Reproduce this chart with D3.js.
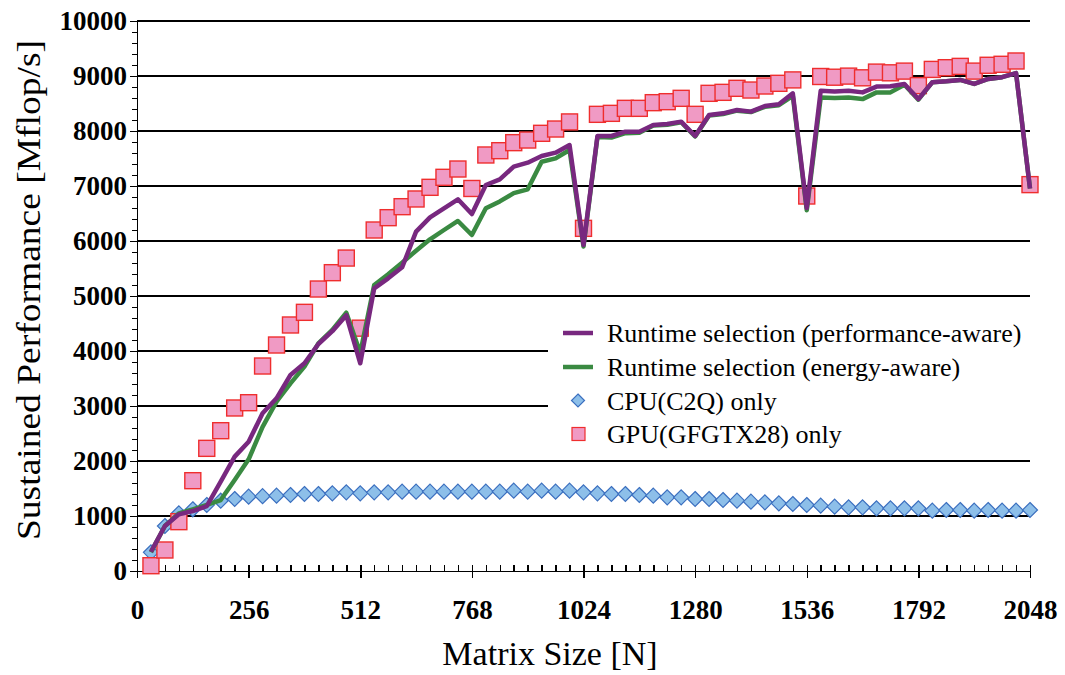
<!DOCTYPE html>
<html lang="en">
<head>
<meta charset="UTF-8">
<title>Sustained Performance vs Matrix Size</title>
<script src="https://cdn.jsdelivr.net/npm/d3@7"></script>
<style>
  body { margin: 0; background: #fff; }
  .axis path, .axis line { stroke: #000; stroke-width: 1.5; shape-rendering: crispEdges; }
  .grid line { stroke: #000; stroke-width: 1.3; shape-rendering: crispEdges; }
</style>
</head>
<body>
<script>
// matrix sizes N
let sizes = [32, 64, 96, 128, 160, 192, 224, 256,
  288, 320, 352, 384, 416, 448, 480, 512,
  544, 576, 608, 640, 672, 704, 736, 768,
  800, 832, 864, 896, 928, 960, 992, 1024,
  1056, 1088, 1120, 1152, 1184, 1216, 1248, 1280,
  1312, 1344, 1376, 1408, 1440, 1472, 1504, 1536,
  1568, 1600, 1632, 1664, 1696, 1728, 1760, 1792,
  1824, 1856, 1888, 1920, 1952, 1984, 2016, 2048];

// Mflop/s
let perfAware = [350, 818, 1030, 1090, 1180, 1624, 2079, 2350,
  2867, 3140, 3564, 3776, 4127, 4360, 4650, 3776,
  5139, 5321, 5521, 6170, 6430, 6594, 6758, 6491,
  7018, 7121, 7352, 7424, 7545, 7606, 7745, 5927,
  7909, 7909, 7988, 7988, 8109, 8127, 8170, 7909,
  8291, 8321, 8382, 8352, 8455, 8485, 8685, 6600,
  8733, 8720, 8733, 8702, 8807, 8813, 8856, 8580,
  8887, 8905, 8929, 8856, 8947, 8978, 9053, 6953];

let energyAware = [340, 818, 1049, 1122, 1200, 1290, 1654, 2030,
  2620, 3080, 3412, 3715, 4139, 4382, 4697, 3964,
  5200, 5394, 5606, 5824, 6030, 6200, 6364, 6109,
  6594, 6720, 6870, 6939, 7442, 7503, 7655, 5900,
  7890, 7880, 7960, 7970, 8100, 8115, 8160, 7900,
  8280, 8310, 8370, 8345, 8440, 8470, 8640, 6560,
  8611, 8600, 8611, 8580, 8702, 8702, 8840, 8570,
  8887, 8905, 8929, 8856, 8947, 8978, 9053, 6953];

let cpuOnly = [340, 818, 1049, 1122, 1200, 1278, 1309, 1351,
  1360, 1370, 1382, 1400, 1400, 1412, 1430, 1412,
  1430, 1430, 1442, 1442, 1442, 1442, 1442, 1442,
  1442, 1442, 1461, 1442, 1461, 1442, 1461, 1430,
  1412, 1400, 1400, 1382, 1370, 1339, 1339, 1309,
  1309, 1291, 1279, 1261, 1248, 1230, 1218, 1200,
  1188, 1170, 1158, 1158, 1139, 1139, 1139, 1139,
  1097, 1109, 1109, 1097, 1109, 1097, 1097, 1109];

let gpuOnly = [96, 382, 897, 1642, 2230, 2551, 2964, 3060,
  3727, 4109, 4473, 4703, 5127, 5424, 5690, 4415,
  6200, 6424, 6624, 6764, 6976, 7158, 7309, 6955,
  7564, 7642, 7788, 7836, 7958, 8036, 8165, 6230,
  8303, 8321, 8412, 8412, 8515, 8533, 8594, 8303,
  8685, 8703, 8776, 8745, 8818, 8867, 8929, 6818,
  8991, 8978, 8998, 8967, 9071, 9058, 9089, 8825,
  9120, 9151, 9175, 9089, 9195, 9213, 9273, 7025];

let xTicks = [0, 256, 512, 768, 1024, 1280, 1536, 1792, 2048];
let yTicks = [0, 1000, 2000, 3000, 4000, 5000, 6000, 7000, 8000, 9000, 10000];

let legendLabels = ['Runtime selection (performance-aware)', 'Runtime selection (energy-aware)',
  'CPU(C2Q) only', 'GPU(GFGTX28) only'];

let purple = '#78287f', green = '#3a8a42';
let serif = 'Liberation Serif';

let margin = {top: 21, right: 35, bottom: 104, left: 137};
let width = 1065 - margin.left - margin.right;
let height = 675 - margin.top - margin.bottom;

let svg = d3.select('body').append('svg')
  .attr('width', 1065)
  .attr('height', 675);

let g = svg.append('g')
  .attr('transform', 'translate(' + margin.left + ',' + margin.top + ')');

let x = d3.scaleLinear().domain([0, 2048]).range([0, width]);
let y = d3.scaleLinear().domain([0, 10000]).range([height, 0]);

// gridlines
g.append('g').attr('class', 'grid')
  .selectAll('line')
  .data(yTicks.slice(1))
  .enter().append('line')
  .attr('x1', 0).attr('x2', width)
  .attr('y1', d => y(d)).attr('y2', d => y(d));

// minor ticks
g.append('g').attr('class', 'axis')
  .call(d3.axisLeft(y).tickValues(d3.range(0, 10001, 200)).tickSize(5).tickFormat('').tickSizeOuter(0));
g.append('g').attr('class', 'axis')
  .attr('transform', 'translate(0,' + height + ')')
  .call(d3.axisBottom(x).tickValues(d3.range(0, 2049, 32)).tickSize(-6).tickFormat('').tickSizeOuter(0));

// major axes
let yAxis = g.append('g').attr('class', 'axis')
  .call(d3.axisLeft(y).tickValues(yTicks).tickFormat(d3.format('d')).tickSize(7).tickPadding(3).tickSizeOuter(0));

let xAxis = g.append('g').attr('class', 'axis')
  .attr('transform', 'translate(0,' + height + ')')
  .call(d3.axisBottom(x).tickValues(xTicks).tickFormat(d3.format('d')).tickSize(7).tickSizeOuter(0));
xAxis.selectAll('.tick line').attr('y1', -6).attr('y2', 7);
xAxis.selectAll('.tick text').attr('y', 48).attr('dy', 0);

[xAxis, yAxis].forEach(function (a) {
  a.selectAll('text')
    .attr('font-family', serif)
    .attr('font-size', 27)
    .attr('font-weight', 'bold')
    .attr('fill', '#000');
});

// CPU diamonds
g.append('g').selectAll('path')
  .data(cpuOnly)
  .enter().append('path')
  .attr('d', 'M0,-7.5L7.5,0L0,7.5L-7.5,0Z')
  .attr('transform', (d, i) => 'translate(' + x(sizes[i]) + ',' + y(d) + ')')
  .attr('fill', '#8dbfe9')
  .attr('stroke', '#3b6fbf')
  .attr('stroke-width', 1.2);

// GPU squares
g.append('g').selectAll('rect')
  .data(gpuOnly)
  .enter().append('rect')
  .attr('x', (d, i) => x(sizes[i]) - 8)
  .attr('y', d => y(d) - 8)
  .attr('width', 16).attr('height', 16)
  .attr('fill', '#f09ac4')
  .attr('stroke', '#ef2e2e')
  .attr('stroke-width', 1.4);

let line = d3.line()
  .x((d, i) => x(sizes[i]))
  .y(d => y(d));

g.append('path').datum(energyAware)
  .attr('d', line)
  .attr('fill', 'none')
  .attr('stroke', green)
  .attr('stroke-width', 4.5)
  .attr('stroke-linejoin', 'round');

g.append('path').datum(perfAware)
  .attr('d', line)
  .attr('fill', 'none')
  .attr('stroke', purple)
  .attr('stroke-width', 4.5)
  .attr('stroke-linejoin', 'round');

// legend
let legend = svg.append('g');
legend.append('rect')
  .attr('x', 548).attr('y', 313)
  .attr('width', 495).attr('height', 140)
  .attr('fill', '#fff');

let rowY = [333, 367, 400.5, 434];
legendLabels.forEach(function (label, i) {
  let cy = rowY[i];
  if (i < 2) {
    legend.append('line')
      .attr('x1', 563).attr('x2', 593)
      .attr('y1', cy).attr('y2', cy)
      .attr('stroke', i === 0 ? purple : green)
      .attr('stroke-width', 4.5);
  } else if (i === 2) {
    legend.append('path')
      .attr('d', 'M0,-6.5L6.5,0L0,6.5L-6.5,0Z')
      .attr('transform', 'translate(578,' + cy + ')')
      .attr('fill', '#8dbfe9')
      .attr('stroke', '#3b6fbf')
      .attr('stroke-width', 1.2);
  } else {
    legend.append('rect')
      .attr('x', 572).attr('y', cy - 6.5)
      .attr('width', 13).attr('height', 13)
      .attr('fill', '#f09ac4')
      .attr('stroke', '#ef2e2e')
      .attr('stroke-width', 1.2);
  }
  legend.append('text')
    .attr('x', 607).attr('y', cy + 9)
    .attr('font-family', serif)
    .attr('font-size', 26)
    .text(label);
});

// axis titles
svg.append('text')
  .attr('x', 550).attr('y', 665)
  .attr('text-anchor', 'middle')
  .attr('font-family', serif)
  .attr('font-size', 34)
  .text('Matrix Size [N]');

svg.append('text')
  .attr('transform', 'translate(40,290) rotate(-90)')
  .attr('text-anchor', 'middle')
  .attr('font-family', serif)
  .attr('font-size', 34)
  .attr('textLength', 500)
  .attr('lengthAdjust', 'spacingAndGlyphs')
  .text('Sustained Performance [Mflop/s]');
</script>
</body>
</html>
